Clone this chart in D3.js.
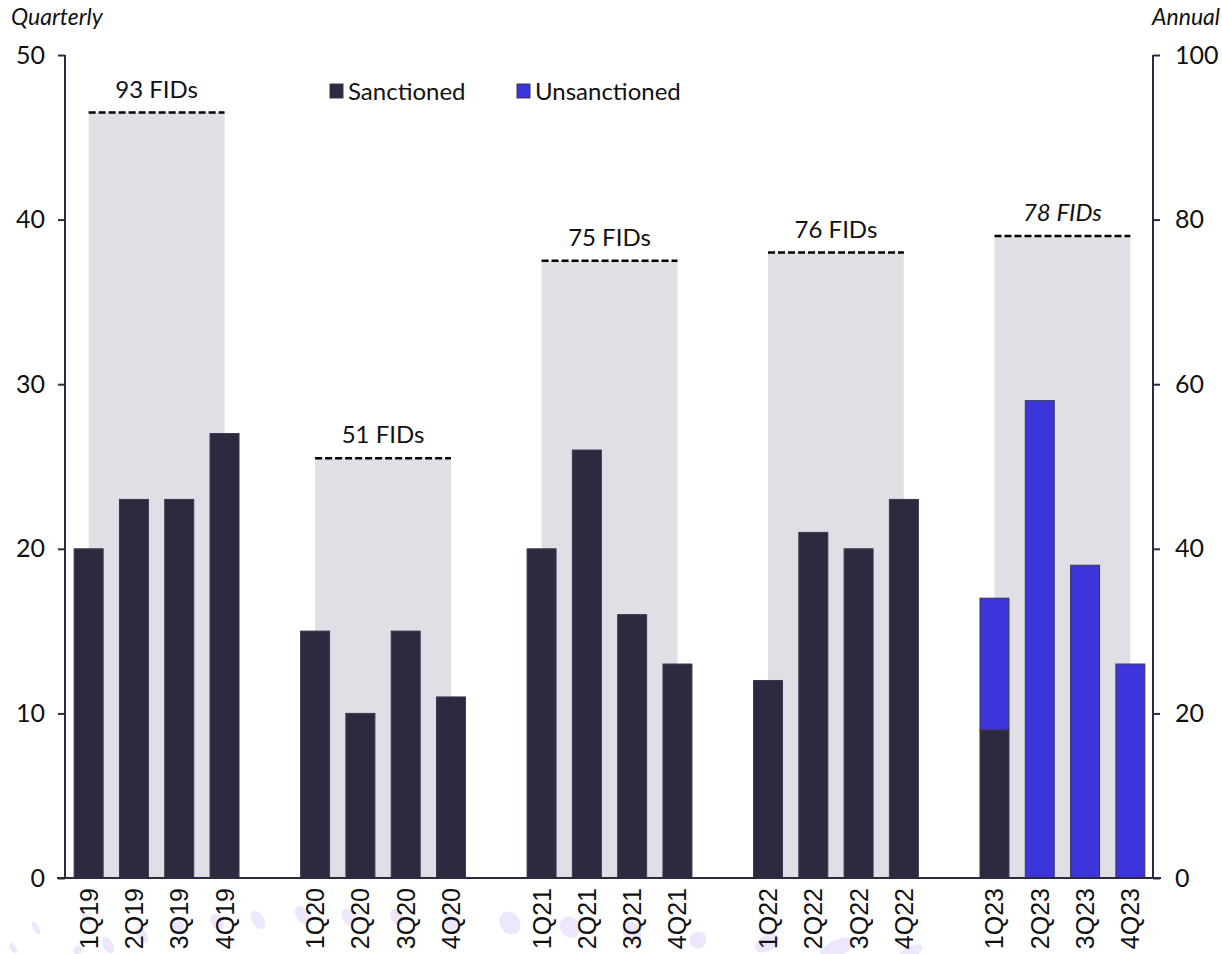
<!DOCTYPE html>
<html>
<head>
<meta charset="utf-8">
<script src="https://cdn.jsdelivr.net/npm/d3@7"></script>
<style>
  body { margin: 0; background: #fff; }
  svg text { font-family: Lato, "Open Sans", sans-serif; fill: #111; }
  .xtick text { font-family: "Liberation Sans", Arial, sans-serif; }
</style>
</head>
<body>
<div id="main"></div>
<script>
const ctx = {
    SVG_W: 1222,
    SVG_H: 954,
};

// data
const quarters = ["1Q19","2Q19","3Q19","4Q19",
                  "1Q20","2Q20","3Q20","4Q20",
                  "1Q21","2Q21","3Q21","4Q21",
                  "1Q22","2Q22","3Q22","4Q22",
                  "1Q23","2Q23","3Q23","4Q23"];
const sanctioned   = [20,23,23,27, 15,10,15,11, 20,26,16,13, 12,21,20,23, 9,0,0,0];
const unsanctioned = [0,0,0,0, 0,0,0,0, 0,0,0,0, 0,0,0,0, 8,29,19,13];
const years = ["2019","2020","2021","2022","2023"];
const annualFIDs = [93, 51, 75, 76, 78];
const leftTicks = [0,10,20,30,40,50];
const rightTicks = [0,20,40,60,80,100];
// faint decorative blobs under the axis
const blobs = [[13,948,3,6],[36,928,3,7],[86,918,3,8],[78,950,5,4],[108,945,5,9],[142,935,5,9],
  [178,927,6,9],[217,922,6,9],[258,920,6,10],[302,915,6,10],[348,917,6,9],[397,917,6,9],
  [452,922,7,9],[510,923,10,12],[570,927,10,11],[632,932,9,11],[698,940,9,8],[767,943,13,8],
  [833,948,14,6],[840,947,14,8],[910,953,14,6]];

function drawChart(svgEl) {
    const marginL = 66, marginR = 1153, top = 55, bottom = 878;

    // one empty slot between years
    const slots = [];
    quarters.forEach((q, i) => {
        if (i > 0 && i % 4 === 0) slots.push("gap" + i);
        slots.push(q);
    });

    const x = d3.scaleBand().domain(slots).range([marginL, marginR])
        .paddingInner(0.36).paddingOuter(0.18);
    const yL = d3.scaleLinear().domain([0, 50]).range([bottom, top]);
    const yR = d3.scaleLinear().domain([0, 100]).range([bottom, top]);
    const cx = q => x(q) + x.bandwidth() / 2;

    const axisColor = "#2d2a40";

    // blobs
    svgEl.append("g").selectAll("ellipse").data(blobs).enter().append("ellipse")
        .attr("cx", d => d[0]).attr("cy", d => d[1])
        .attr("rx", d => d[2]).attr("ry", d => d[3])
        .attr("transform", d => `rotate(-30,${d[0]},${d[1]})`)
        .style("fill", "#eee6fc");

    // annual gray blocks
    const annual = years.map((yr, i) => ({
        first: quarters[i * 4], last: quarters[i * 4 + 3], v: annualFIDs[i], italic: yr === "2023"
    }));
    const ag = svgEl.append("g");
    ag.selectAll("rect").data(annual).enter().append("rect")
        .attr("x", d => cx(d.first))
        .attr("width", d => cx(d.last) - cx(d.first))
        .attr("y", d => yR(d.v))
        .attr("height", d => bottom - yR(d.v))
        .style("fill", "#e0dfe6");
    ag.selectAll("line").data(annual).enter().append("line")
        .attr("x1", d => cx(d.first)).attr("x2", d => cx(d.last))
        .attr("y1", d => yR(d.v)).attr("y2", d => yR(d.v))
        .style("stroke", "#000").style("stroke-width", 2.5).style("stroke-dasharray", "7,3");
    ag.selectAll("text").data(annual).enter().append("text")
        .attr("x", d => (cx(d.first) + cx(d.last)) / 2)
        .attr("y", d => yR(d.v) - 15)
        .attr("text-anchor", "middle")
        .style("font-size", "24px")
        .style("font-style", d => d.italic ? "italic" : "normal")
        .text(d => d.v + " FIDs");

    // bars
    const rows = quarters.map((q, i) => ({ q: q, s: sanctioned[i], u: unsanctioned[i] }));
    const bg = svgEl.append("g");
    bg.selectAll(".sanc").data(rows.filter(d => d.s > 0)).enter().append("rect")
        .attr("class", "sanc")
        .attr("x", d => x(d.q)).attr("width", x.bandwidth())
        .attr("y", d => yL(d.s)).attr("height", d => bottom - yL(d.s))
        .style("fill", "#2d2a40").style("stroke", "#3a3850").style("stroke-width", 1);
    bg.selectAll(".unsanc").data(rows.filter(d => d.u > 0)).enter().append("rect")
        .attr("class", "unsanc")
        .attr("x", d => x(d.q)).attr("width", x.bandwidth())
        .attr("y", d => yL(d.s + d.u)).attr("height", d => yL(d.s) - yL(d.s + d.u))
        .style("fill", "#3d35dc").style("stroke", "#3a3850").style("stroke-width", 1);

    // axes
    const left = svgEl.append("g").attr("transform", `translate(${marginL - 1},0)`)
        .call(d3.axisLeft(yL).tickValues(leftTicks).tickSize(7).tickPadding(13));
    const right = svgEl.append("g").attr("transform", `translate(${marginR},0)`)
        .call(d3.axisRight(yR).tickValues(rightTicks).tickSize(7).tickPadding(15));
    [left, right].forEach(g => {
        g.select(".domain").attr("d", `M0,${top}V${bottom}`).style("stroke", axisColor).style("stroke-width", 2);
        g.selectAll(".tick line").style("stroke", axisColor).style("stroke-width", 2);
        g.selectAll(".tick text").style("font-size", "25px").style("font-family", "Lato, sans-serif").style("fill", "#111");
    });

    svgEl.append("line")
        .attr("x1", 57).attr("x2", 1161).attr("y1", bottom).attr("y2", bottom)
        .style("stroke", axisColor).style("stroke-width", 2);

    const xg = svgEl.append("g").attr("class", "xtick");
    xg.selectAll("text").data(quarters).enter().append("text")
        .attr("transform", d => `translate(${cx(d) + 9},${bottom + 10}) rotate(-90)`)
        .attr("text-anchor", "end")
        .style("font-size", "25px")
        .text(d => d);

    // axis titles
    svgEl.append("text").attr("x", 11).attr("y", 25)
        .style("font-size", "23px").style("font-style", "italic").text("Quarterly");
    svgEl.append("text").attr("x", 1220).attr("y", 25).attr("text-anchor", "end")
        .style("font-size", "23px").style("font-style", "italic").text("Annual");

    // legend
    const legend = [{ name: "Sanctioned", c: "#2d2a40", x: 330 }, { name: "Unsanctioned", c: "#3d35dc", x: 517 }];
    const lg = svgEl.append("g").selectAll("g").data(legend).enter().append("g");
    lg.append("rect").attr("x", d => d.x).attr("y", 84).attr("width", 13).attr("height", 14)
        .style("fill", d => d.c).style("stroke", "#3a3850");
    lg.append("text").attr("x", d => d.x + 18).attr("y", 100)
        .style("font-size", "24px").text(d => d.name);
}

function createViz() {
    let svgEl = d3.select("#main").append("svg");
    svgEl.attr("width", ctx.SVG_W);
    svgEl.attr("height", ctx.SVG_H);
    drawChart(svgEl);
}
createViz();
</script>
</body>
</html>
